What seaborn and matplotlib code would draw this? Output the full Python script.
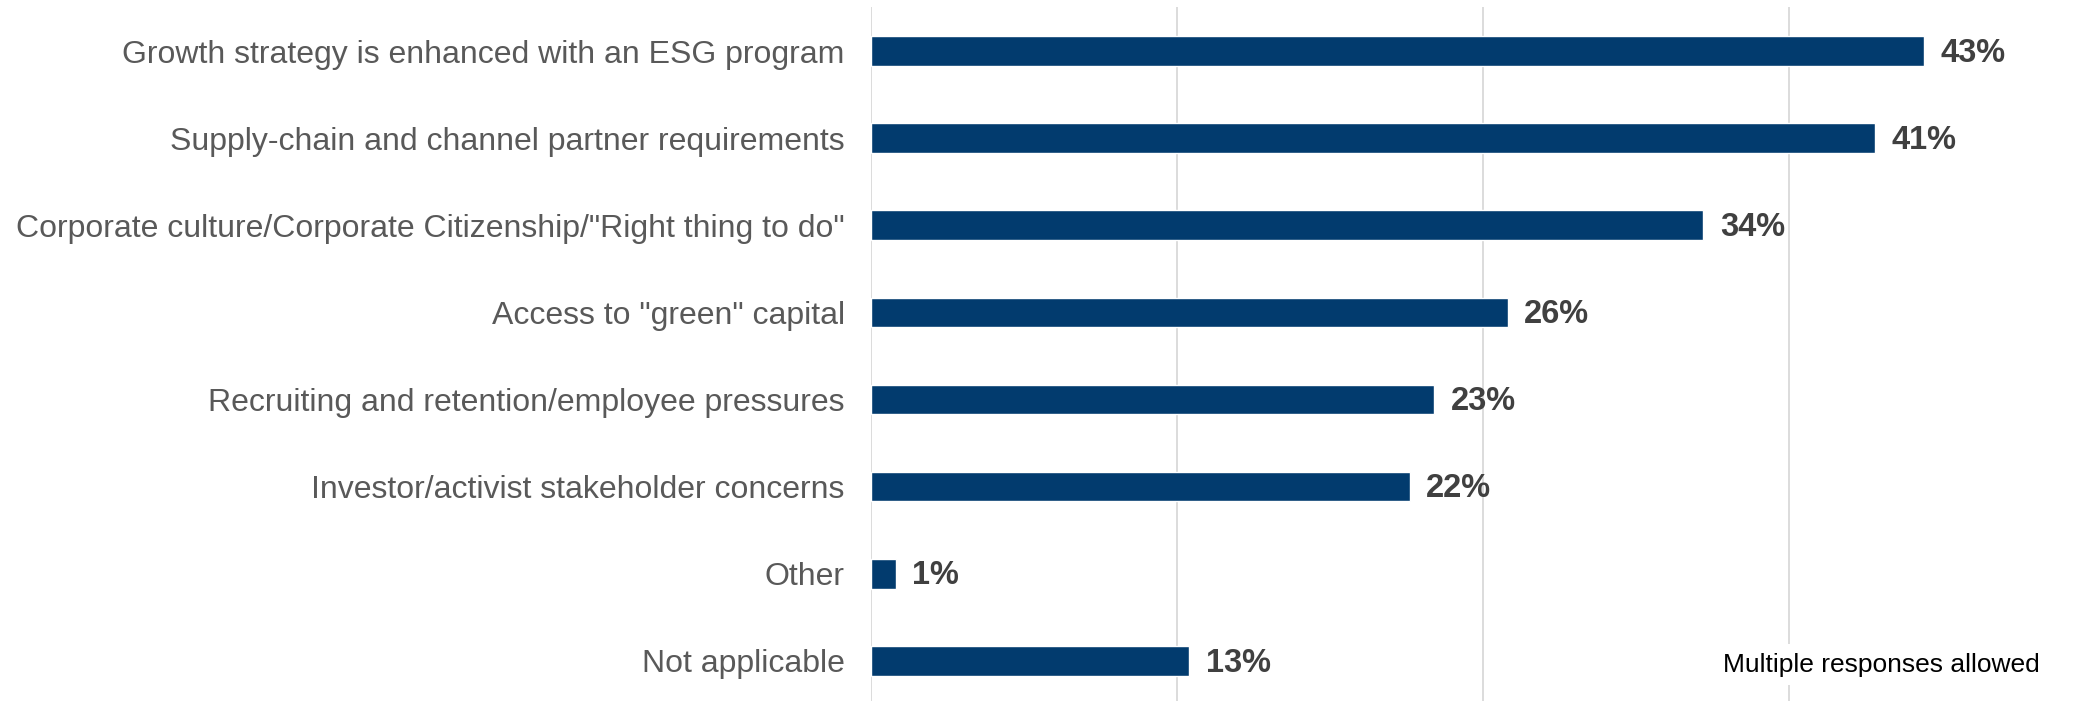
import matplotlib
matplotlib.use("Agg")
import matplotlib.pyplot as plt
import seaborn as sns
import pandas as pd

categories = [
    "Growth strategy is enhanced with an ESG program",
    "Supply-chain and channel partner requirements",
    'Corporate culture/Corporate Citizenship/"Right thing to do"',
    'Access to "green" capital',
    "Recruiting and retention/employee pressures",
    "Investor/activist stakeholder concerns",
    "Other",
    "Not applicable",
]
shares = [43, 41, 34, 26, 23, 22, 1, 13]
note = "Multiple responses allowed"

sns.set_theme(style="white")
plt.rcParams["font.family"] = ["Liberation Sans", "DejaVu Sans"]

df = pd.DataFrame({"reason": categories, "share": [v / 100 for v in shares]})

fig = plt.figure(figsize=(20.95, 7.01), dpi=100)
ax = fig.add_axes([0.4158, 0.0, 0.5842, 0.99])

sns.barplot(data=df, x="share", y="reason", orient="h", color="#023B6E",
            width=0.34, saturation=1, ax=ax, zorder=3)

ax.set_xlim(0, 0.5)
ax.set_ylim(7.46, -0.505)
ax.set_xticks([0, 0.125, 0.25, 0.375])
ax.xaxis.grid(True, color="#D9D9D9", linewidth=1.3, zorder=0)
ax.set_axisbelow(True)
for s in ax.spines.values():
    s.set_visible(False)
ax.tick_params(axis="x", length=0, labelbottom=False)
ax.tick_params(axis="y", length=0, pad=19, labelsize=23, labelcolor="#595959")
ax.set_xlabel("")
ax.set_ylabel("")

labels = ax.bar_label(ax.containers[0], labels=[f"{v}%" for v in shares],
                      padding=12, fontsize=23.5, fontweight="bold",
                      color="#404040")
for t in labels:
    t.xyann = (12, -1.5)

ax.text(0.955, 0.052, note, transform=ax.transAxes, ha="right", va="center",
        fontsize=19, color="black", zorder=5,
        bbox=dict(facecolor="white", edgecolor="none", pad=6))

fig.savefig("out.png", dpi=100)
